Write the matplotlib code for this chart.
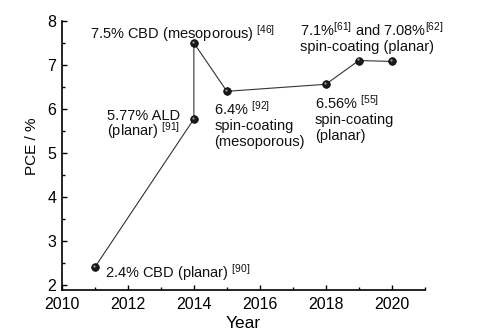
import matplotlib
matplotlib.use("Agg")
import matplotlib.pyplot as plt
from matplotlib.ticker import MultipleLocator
from matplotlib.transforms import ScaledTranslation

plt.rcParams['font.family'] = ['Liberation Sans', 'DejaVu Sans']
plt.rcParams['mathtext.fontset'] = 'custom'
plt.rcParams['mathtext.rm'] = 'Liberation Sans'
plt.rcParams['mathtext.default'] = 'regular'

years = [2011, 2014, 2014, 2015, 2018, 2019, 2020]
pce = [2.4, 5.77, 7.5, 6.4, 6.56, 7.1, 7.08]

labels = [
    "2.4% CBD (planar) $^{[90]}$",
    "5.77% ALD\n(planar) $^{[91]}$",
    "7.5% CBD (mesoporous) $^{[46]}$",
    "6.4% $^{[92]}$\nspin-coating\n(mesoporous)",
    "6.56% $^{[55]}$\nspin-coating\n(planar)",
    "7.1%$^{[61]}$ and 7.08%$^{[62]}$\nspin-coating (planar)",
    None,
]
# (dx, dy) in points, alignments and line spacing for each label
placement = [
    ((7, -4), 'left', 'center', 'left', 1.1),
    ((-10, -4.5), 'right', 'center', 'center', 0.8),
    ((-75, 7), 'left', 'center', 'left', 1.1),
    ((-9, -6), 'left', 'top', 'left', 1.15),
    ((-8, -6.5), 'left', 'top', 'left', 1.15),
    ((-42, 5), 'left', 'bottom', 'left', 1.1),
    None,
]

fig = plt.figure(figsize=(4.8, 3.33), dpi=100)
ax = fig.add_axes([0.129, 0.129, 0.756, 0.808])

ax.plot(years, pce, color='#333333', lw=0.8, zorder=2)
ax.plot(years, pce, ls='none', marker='o', ms=5.5, mfc='#1a1a1a', mec='#000000', mew=0.5, zorder=3)
# small highlight on each marker
ax.plot(years, pce, ls='none', marker='o', ms=1.6, mfc='#9a9a9a', mec='none', zorder=4,
        transform=ax.transData + ScaledTranslation(-0.6/72, 0.8/72, fig.dpi_scale_trans))

for x, y, lab, pl in zip(years, pce, labels, placement):
    if lab is None:
        continue
    (dx, dy), ha, va, ma, ls = pl
    ax.annotate(lab, (x, y), xytext=(dx, dy), textcoords='offset points',
                ha=ha, va=va, multialignment=ma, fontsize=10.5, color='#111111',
                linespacing=ls)

ax.set_xlim(2010, 2021)
ax.set_ylim(1.88, 8)
ax.xaxis.set_major_locator(MultipleLocator(2))
ax.xaxis.set_minor_locator(MultipleLocator(1))
ax.yaxis.set_major_locator(MultipleLocator(1))
ax.yaxis.set_minor_locator(MultipleLocator(0.5))
ax.tick_params(which='both', direction='in', labelsize=11.5, width=1, color='black')
ax.tick_params(which='major', length=3.5)
ax.tick_params(which='minor', length=2)
ax.tick_params(axis='x', pad=5)
ax.tick_params(axis='y', pad=4)
for s in ['top', 'right']:
    ax.spines[s].set_visible(False)
for s in ['left', 'bottom']:
    ax.spines[s].set_linewidth(1.2)

ax.set_xlabel('Year', fontsize=12.5, labelpad=3)
ax.set_ylabel('PCE / %', fontsize=11)
ax.yaxis.set_label_coords(-0.062, 0.535)

fig.savefig('out.png', dpi=100)
